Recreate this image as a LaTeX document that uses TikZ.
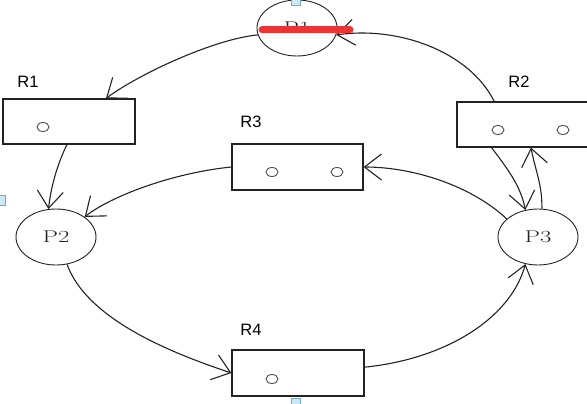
\documentclass[tikz,border=0pt]{standalone}
\usepackage{fontspec}
\usepackage{graphicx}
\newfontfamily\labfont{Liberation Sans}
\usetikzlibrary{arrows.meta,shapes.geometric}
\definecolor{ink}{RGB}{35,35,35}
\definecolor{redmark}{RGB}{236,52,52}
\definecolor{handle}{RGB}{205,232,245}
\definecolor{handleb}{RGB}{120,170,200}
\tikzset{
  place/.style={ellipse,draw=ink,line width=0.9pt,minimum width=80pt,minimum height=56pt,inner sep=0pt,
    font=\fontsize{17}{17}\selectfont,text=ink},
  trans/.style={rectangle,draw=ink,line width=1.2pt,inner sep=0pt},
  tok/.style={ellipse,draw=ink!80,line width=0.9pt,minimum width=12pt,minimum height=9pt,inner sep=0pt},
  lab/.style={font=\labfont\fontsize{16.5}{16.5}\selectfont,inner sep=0pt},
  arc/.style={draw=ink,line width=1.1pt,-{Straight Barb[length=17pt,width=26pt,line width=1.1pt]}},
  grip/.style={draw=handleb,fill=handle,line width=0.4pt},
  redstroke/.style={draw=redmark,line width=7pt,line cap=round}
}
\begin{document}
\begin{tikzpicture}[x=1pt,y=-1pt]
\useasboundingbox (0,0) rectangle (587,404);
\clip (0,0) rectangle (587,404);
\fill[white] (0,0) rectangle (587,404);

% places
\node[place] (P1) at (297,28) {\scalebox{1.45}[1]{P1}};
\node[place] (P2) at (56,237) {\scalebox{1.45}[1]{P2}};
\node[place] (P3) at (538,237) {\scalebox{1.45}[1]{P3}};

% transitions
\node[trans,minimum width=132pt,minimum height=45pt] (R1) at (69,121.5) {};
\node[trans,minimum width=143pt,minimum height=45pt] (R2) at (528.5,124.5) {};
\node[trans,minimum width=131pt,minimum height=46pt] (R3) at (297.5,167) {};
\node[trans,minimum width=132pt,minimum height=46pt] (R4) at (298,373) {};

% tokens
\node[tok] (t1) at (43,127) {};
\node[tok] (t2a) at (498,130) {};
\node[tok] (t2b) at (563,130) {};
\node[tok] (t3a) at (272,172) {};
\node[tok] (t3b) at (337,172) {};
\node[tok] (t4) at (272,379) {};

% labels
\node[lab] (L1) at (28,82) {R1};
\node[lab] (L2) at (519,82) {R2};
\node[lab] (L3) at (251,122) {R3};
\node[lab] (L4) at (251,330) {R4};

% arcs
\draw[arc] (P1.190) .. controls +(-43,4) and +(34,-25) .. (R1.32);
\draw[arc] (R2.146) .. controls +(-25,-50) and +(62,-9) .. (P1.-10);
\draw[arc] (R1.-95) .. controls +(-10,20) and +(2,-20) .. (P2.105);
\draw[arc] (R3.west) .. controls +(-60,6) and +(25,-20) .. (P2.35);
\draw[arc] (P2.-68) .. controls +(20,55) and +(-60,-20) .. (R4.west);
\draw[arc] (R4.5) .. controls +(80,-8) and +(-15,55) .. (P3.-115);
\draw[arc] (P3.150) .. controls +(-35,-33) and +(50,0) .. (R3.east);
\draw[arc] (R2.-148) .. controls +(15,20) and +(-5,-25) .. (P3.115);
\draw[arc] (P3.82) .. controls +(0,-25) and +(5,25) .. (R2.-84);

% red annotation stroke
\coordinate (m1) at (262,30);
\coordinate (m2) at (350,30);
\draw[redstroke] (m1) -- (m2);

% selection handles
\draw[grip] (291,-1) rectangle (300,5);
\draw[grip] (-1,195) rectangle (5,205);
\draw[grip] (291,398) rectangle (300,405);
\end{tikzpicture}
\end{document}
